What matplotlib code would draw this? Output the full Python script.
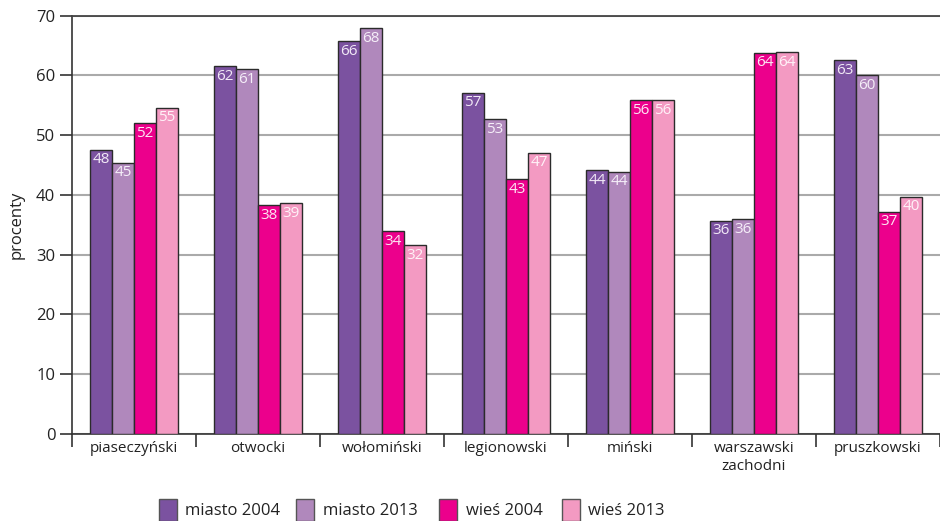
import matplotlib
matplotlib.use("Agg")
import matplotlib.pyplot as plt
from matplotlib.patches import Rectangle
import numpy as np

plt.rcParams['font.family'] = ['Open Sans', 'DejaVu Sans']

categories = ["piaseczyński", "otwocki", "wołomiński", "legionowski",
              "miński", "warszawski\nzachodni", "pruszkowski"]
series_names = ["miasto 2004", "miasto 2013", "wieś 2004", "wieś 2013"]
miasto_2004 = [47.6, 61.6, 65.7, 57.1, 44.1, 35.7, 62.6]
miasto_2013 = [45.4, 61.1, 67.9, 52.7, 43.9, 36.0, 60.0]
wies_2004 = [52.0, 38.3, 34.0, 42.6, 55.9, 63.8, 37.2]
wies_2013 = [54.6, 38.6, 31.6, 47.1, 55.9, 63.9, 39.7]
yticks = [0, 10, 20, 30, 40, 50, 60, 70]

series = [miasto_2004, miasto_2013, wies_2004, wies_2013]
colors = ["#7b52a0", "#b088bc", "#ec008c", "#f39ac2"]
label_colors = ["#f1e9f6", "#f5eef8", "#fde6f2", "#fff2f8"]

fig = plt.figure(figsize=(9.4, 5.21), dpi=100)
ax = fig.add_axes([72 / 940, 1 - 434 / 521, 868 / 940, (434 - 15.7) / 521])

x = np.arange(len(categories))
w = 0.177
for i, (vals, col, lc) in enumerate(zip(series, colors, label_colors)):
    pos = x + (i - 1.5) * w
    bars = ax.bar(pos, vals, width=w, color=col, edgecolor="#2b2b2b",
                  linewidth=1.0, zorder=3)
    for b, v in zip(bars, vals):
        ax.text(b.get_x() + b.get_width() / 2, v - 0.45, f"{v:.0f}",
                ha="center", va="top", color=lc, fontsize=11, zorder=4)

ax.set_xlim(-0.5, len(categories) - 0.5)
ax.set_ylim(0, 70)
ax.set_yticks(yticks)
ax.set_yticklabels([str(t) for t in yticks], fontsize=12, color="#222222")
ax.tick_params(axis="y", length=9, width=1.2, color="#333333", pad=3)

ax.set_xticks(x)
ax.set_xticklabels(categories, fontsize=11, color="#222222", linespacing=1.25)
ax.tick_params(axis="x", which="major", length=0, pad=5)
ax.set_xticks(np.arange(-0.5, len(categories), 1.0), minor=True)
ax.tick_params(axis="x", which="minor", length=9, width=1.2, color="#333333")

ax.yaxis.grid(True, color="#aaaaaa", linewidth=1.5, zorder=0)
ax.set_axisbelow(True)
ax.spines["right"].set_visible(False)
ax.spines["top"].set_color("#444444")
ax.spines["top"].set_linewidth(1.3)
ax.spines["left"].set_color("#333333")
ax.spines["left"].set_linewidth(1.2)
ax.spines["bottom"].set_color("#333333")
ax.spines["bottom"].set_linewidth(1.2)

ax.set_ylabel("procenty", fontsize=12, color="#222222", labelpad=8)

# legend row along the bottom edge
sq_x = [159, 296, 439, 562]
txt_x = [185, 323, 466, 588]
for name, col, sx, tx in zip(series_names, colors, sq_x, txt_x):
    fig.add_artist(Rectangle((sx / 940, 0), 18 / 940, 22 / 521,
                             transform=fig.transFigure, facecolor=col,
                             edgecolor="#555555", linewidth=1.0))
    fig.text(tx / 940, 1 - 511 / 521, name, fontsize=12, color="#222222",
             ha="left", va="center")

fig.savefig("out.png", dpi=100)
